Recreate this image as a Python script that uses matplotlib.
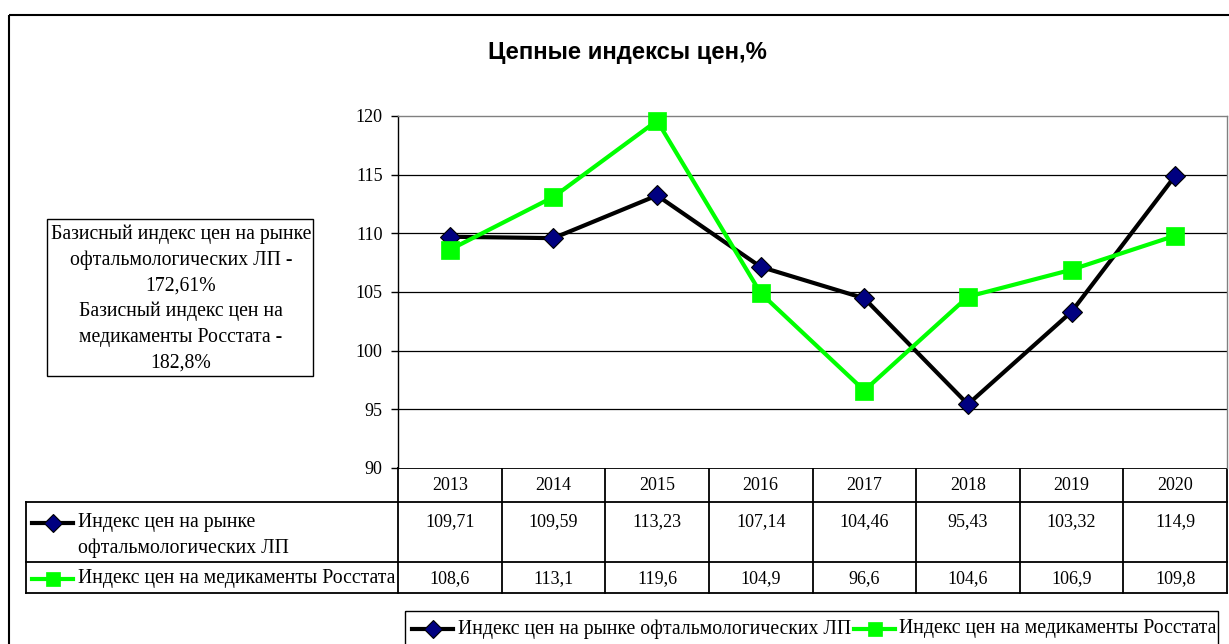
import matplotlib
matplotlib.use("Agg")
import matplotlib.pyplot as plt
from matplotlib.patches import Rectangle
from matplotlib.lines import Line2D

# ---- data ----
years = ["2013", "2014", "2015", "2016", "2017", "2018", "2019", "2020"]
ophthalmic = [109.71, 109.59, 113.23, 107.14, 104.46, 95.43, 103.32, 114.9]
rosstat = [108.6, 113.1, 119.6, 104.9, 96.6, 104.6, 106.9, 109.8]
ophthalmic_labels = ["109,71", "109,59", "113,23", "107,14", "104,46", "95,43", "103,32", "114,9"]
rosstat_labels = ["108,6", "113,1", "119,6", "104,9", "96,6", "104,6", "106,9", "109,8"]
series_names = ["Индекс цен на рынке офтальмологических ЛП",
                "Индекс цен на медикаменты Росстата"]
title = "Цепные индексы цен,%"
note_lines = ["Базисный индекс цен на рынке", "офтальмологических ЛП -", "172,61%",
              "Базисный индекс цен на", "медикаменты Росстата -", "182,8%"]
y_ticks = [90, 95, 100, 105, 110, 115, 120]

W, H = 1229, 644
DPI = 100
SERIF = ["Liberation Serif", "DejaVu Serif"]
SANS = ["Liberation Sans", "DejaVu Sans"]
FS_TEXT = 14.2
FS_NUM = 13

BLACK_STYLE = dict(color="black", lw=3.0, marker="D", ms=10.0,
                   markerfacecolor="#000080", markeredgecolor="black", markeredgewidth=0.8)
GREEN_STYLE = dict(color="#00FF00", lw=3.0, marker="s", ms=12.7,
                   markerfacecolor="#00FF00", markeredgecolor="#00FF00", markeredgewidth=0.5)
BLACK_KEY = dict(BLACK_STYLE, ms=9.0, markevery=[1])
GREEN_KEY = dict(GREEN_STYLE, ms=10.0, markevery=[1])

fig = plt.figure(figsize=(W / DPI, H / DPI), dpi=DPI)
fig.patch.set_facecolor("white")


def frac(x0, y0, x1, y1):
    """Pixel box (top-left origin) -> figure fraction rect."""
    return [x0 / W, 1 - y1 / H, (x1 - x0) / W, (y1 - y0) / H]


# ---- overlay in pixel coordinates for frames and captions ----
over = fig.add_axes([0, 0, 1, 1], zorder=0)
over.set_xlim(0, W)
over.set_ylim(H, 0)
over.axis("off")
over.add_patch(Rectangle((9, 15), W + 20, H + 20, fill=False, ec="black", lw=1.5))
over.text(627, 52, title, ha="center", va="center", fontsize=17.2,
          fontweight="bold", family=SANS)

# note box with clipped text
box = Rectangle((47, 219), 266, 157, fill=False, ec="black", lw=1.0)
over.add_patch(box)
clip_box = Rectangle((47, 219), 266, 157, fill=False, lw=0)
over.add_patch(clip_box)
for i, line in enumerate(note_lines):
    t = over.text(181, 234 + i * 25.8, line, ha="center", va="center",
                  fontsize=FS_TEXT, family=SERIF)
    t.set_clip_path(clip_box)

# ---- main line chart ----
ax = fig.add_axes(frac(398, 116, 1227, 468), zorder=2)
x = list(range(len(years)))
ax.set_xlim(-0.5, len(years) - 0.5)
ax.set_ylim(90, 120)
ax.set_yticks(y_ticks)
ax.set_yticklabels([str(v) for v in y_ticks], fontsize=FS_NUM, family=SERIF)
ax.set_xticks([])
for v in y_ticks[1:-1]:
    ax.axhline(v, color="black", lw=0.9, zorder=1)
ax.spines["top"].set_color("#808080")
ax.spines["right"].set_color("#808080")
ax.spines["bottom"].set_visible(False)
ax.spines["left"].set_color("black")
for s in ("top", "right", "left"):
    ax.spines[s].set_linewidth(1.0)
ax.tick_params(axis="y", direction="out", length=5, width=1.0, pad=6)
ax.plot(x, ophthalmic, zorder=3, clip_on=False, **BLACK_STYLE)
ax.plot(x, rosstat, zorder=4, clip_on=False, **GREEN_STYLE)

# ---- data table below the chart ----
col_w = (1227 - 398) / len(years)
label_w = (398 - 26) / col_w
tab = fig.add_axes(frac(26, 468, 1227, 593), zorder=1)
tab.set_xlim(-0.5 - label_w, len(years) - 0.5)
tab.set_ylim(125, 0)
tab.axis("off")
left = -0.5 - label_w
right = len(years) - 0.5
lw_tab = 1.3
# horizontal rules
tab.plot([-0.5, right], [0, 0], color="black", lw=lw_tab, clip_on=False)
for yy in (34, 94, 125):
    tab.plot([left, right], [yy, yy], color="black", lw=lw_tab, clip_on=False)
# vertical rules
tab.plot([left, left], [34, 125], color="black", lw=lw_tab, clip_on=False)
for i in range(len(years) + 1):
    tab.plot([i - 0.5, i - 0.5], [0, 125], color="black", lw=lw_tab, clip_on=False)

for i in x:
    tab.text(i, 18, years[i], ha="center", va="center", fontsize=FS_NUM, family=SERIF)
    tab.text(i, 54, ophthalmic_labels[i], ha="center", va="center", fontsize=FS_NUM, family=SERIF)
    tab.text(i, 111, rosstat_labels[i], ha="center", va="center", fontsize=FS_NUM, family=SERIF)

# row keys (pixel overlay)
over.add_line(Line2D([32, 52.5, 73], [523, 523, 523], **BLACK_KEY))
over.text(78, 523, "Индекс цен на рынке", ha="left", va="center",
          fontsize=FS_TEXT, family=SERIF)
over.text(78, 548, "офтальмологических ЛП", ha="left", va="center",
          fontsize=FS_TEXT, family=SERIF)
over.add_line(Line2D([32, 52.5, 73], [579, 579, 579], **GREEN_KEY))
over.text(78, 579, series_names[1], ha="left", va="center",
          fontsize=FS_TEXT, family=SERIF)

# ---- bottom legend ----
over.add_patch(Rectangle((405, 611), 813, 60, fill=False, ec="black", lw=1.0))
over.add_line(Line2D([412, 432.5, 453], [629, 629, 629], **BLACK_KEY))
over.text(458, 629, series_names[0], ha="left", va="center",
          fontsize=FS_TEXT, family=SERIF)
over.add_line(Line2D([854, 874.5, 895], [629, 629, 629], **GREEN_KEY))
over.text(899, 629, series_names[1], ha="left", va="center",
          fontsize=FS_TEXT, family=SERIF)

fig.savefig("out.png", dpi=DPI, facecolor="white")
